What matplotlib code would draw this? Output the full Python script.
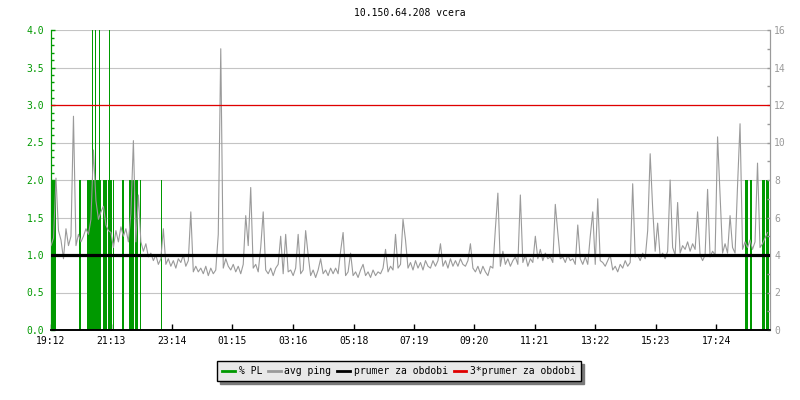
import matplotlib.pyplot as plt
from matplotlib.lines import Line2D
from matplotlib.ticker import MultipleLocator

plt.rcParams['font.family'] = ['DejaVu Sans Mono']
plt.rcParams['font.size'] = 7

# avg ping [ms], one value every 5 minutes starting 19:12 (one row = one hour)
ping_ms = [
    4.5, 4.9, 8.1, 5.3, 4.8, 3.8, 5.4, 4.5, 5.0, 11.4, 4.5, 5.1,
    4.7, 5.0, 5.4, 5.1, 5.9, 9.6, 6.9, 5.9, 6.3, 6.6, 5.6, 5.3,
    5.2, 4.4, 5.3, 4.7, 5.5, 5.0, 5.4, 4.7, 6.2, 10.1, 4.7, 7.2,
    4.7, 4.2, 4.6, 3.9, 4.1, 3.7, 4.0, 3.5, 3.8, 5.4, 3.5, 3.8,
    3.4, 3.7, 3.3, 3.8, 3.6, 4.0, 3.4, 3.7, 6.3, 3.1, 3.4, 3.1,
    3.3, 3.0, 3.4, 2.9, 3.3, 3.0, 3.2, 5.1, 15.0, 3.3, 3.8, 3.4,
    3.2, 3.5, 3.1, 3.4, 3.0, 3.5, 6.1, 4.5, 7.6, 3.3, 3.5, 3.1,
    4.4, 6.3, 3.2, 3.0, 3.3, 2.9, 3.3, 3.5, 5.0, 3.0, 5.1, 3.1,
    3.2, 2.9, 3.3, 5.1, 3.0, 3.2, 5.3, 4.0, 2.9, 3.2, 2.8, 3.2,
    3.8, 3.0, 3.2, 2.9, 3.3, 3.0, 3.3, 3.0, 4.2, 5.2, 2.9, 3.1,
    4.1, 2.9, 3.1, 2.8, 3.2, 3.5, 2.9, 3.1, 2.8, 3.2, 2.9, 3.1,
    3.0, 3.3, 4.3, 3.1, 3.4, 3.2, 5.1, 3.3, 3.5, 5.9, 4.8, 3.3,
    3.6, 3.2, 3.7, 3.3, 3.6, 3.2, 3.7, 3.4, 3.3, 3.7, 3.4, 3.7,
    4.6, 3.4, 3.7, 3.3, 3.8, 3.4, 3.7, 3.4, 3.8, 3.5, 3.4, 3.7,
    4.6, 3.3, 3.1, 3.4, 3.0, 3.4, 3.1, 2.9, 3.4, 3.3, 5.4, 7.3,
    3.4, 4.2, 3.5, 3.8, 3.4, 3.7, 3.9, 3.5, 7.2, 3.6, 4.0, 3.4,
    3.8, 3.6, 5.0, 3.8, 4.3, 3.7, 4.1, 3.8, 3.9, 3.6, 6.7, 5.2,
    3.8, 3.9, 3.6, 4.0, 3.7, 3.8, 3.5, 5.6, 3.8, 3.5, 3.9, 3.5,
    5.0, 6.3, 3.5, 7.0, 3.7, 3.6, 3.4, 3.7, 4.0, 3.2, 3.4, 3.1,
    3.5, 3.3, 3.7, 3.4, 3.6, 7.8, 3.9, 4.0, 3.7, 4.1, 3.8, 5.3,
    9.4, 6.5, 4.2, 5.7, 3.9, 4.1, 3.8, 4.2, 8.0, 4.4, 4.0, 6.8,
    4.1, 4.5, 4.3, 4.7, 4.2, 4.6, 4.3, 6.3, 4.0, 3.7, 4.0, 7.5,
    3.9, 4.2, 4.0, 10.3, 7.2, 4.1, 4.6, 4.1, 6.1, 4.4, 4.1, 7.7,
    11.0, 4.3, 4.7, 4.4, 4.8, 4.3, 4.7, 8.9, 4.4, 4.6, 4.9, 5.2,
]
ping_step_min = 5

# packet loss samples: minutes after 19:12 and loss in %
pl_minute = [0, 2, 4, 6, 8,
             56, 58,
             72, 74, 76, 78, 80, 82, 84, 86, 88, 90, 92, 94, 96, 98,
             104, 106, 108, 110,
             114, 116, 118, 120,
             124,
             142, 144,
             156, 158, 160, 162, 164,
             168, 170, 172,
             178,
             220,
             1390, 1392,
             1400,
             1424, 1426,
             1432, 1434]
pl_percent = [2, 2, 2, 2, 2,
              2, 2,
              2, 2, 2, 2, 2, 6, 2, 2, 6, 2, 2, 2, 6, 2,
              2, 2, 2, 2,
              2, 6, 2, 2,
              2,
              2, 2,
              2, 2, 2, 2, 2,
              2, 2, 2,
              2,
              2,
              2, 2,
              2,
              2, 2,
              2, 2]

ping_mean = 4.0
start_clock = '19:12'
tick_labels = ['19:12', '21:13', '23:14', '01:15', '03:16', '05:18',
               '07:19', '09:20', '11:21', '13:22', '15:23', '17:24']

GREEN = '#009900'
GRAY = '#9a9a9a'
RED = '#e00000'


def clock_to_min(s):
    h, m = s.split(':')
    h0, m0 = start_clock.split(':')
    return ((int(h) * 60 + int(m)) - (int(h0) * 60 + int(m0))) % 1440


fig = plt.figure(figsize=(8, 4), dpi=100)
ax = fig.add_axes([51 / 800, 70 / 400, 719 / 800, 300 / 400])
ax2 = ax.twinx()

# packet loss bars (left axis)
ax.bar(pl_minute, pl_percent, width=3, align='edge', color=GREEN, linewidth=0,
       antialiased=False, zorder=2)
ax.set_ylim(0, 4)
ax.set_xlim(0, 1440)
ax.yaxis.set_major_locator(MultipleLocator(0.5))
ax.yaxis.set_minor_locator(MultipleLocator(0.1))
ax.yaxis.set_major_formatter(plt.FormatStrFormatter('%.1f'))
ax.grid(axis='y', color='#c4c4c4', linewidth=0.8)
ax.set_axisbelow(True)
ax.tick_params(axis='y', which='major', direction='in', length=3.2, width=1,
               color=GREEN, labelcolor=GREEN, pad=5)
ax.tick_params(axis='y', which='minor', direction='in', length=2, width=1, color=GREEN)

ticks = [clock_to_min(t) for t in tick_labels]
ax.set_xticks(ticks)
ax.set_xticklabels(tick_labels)
ax.tick_params(axis='x', direction='in', length=4.3, width=1, color='black', pad=4)

# ping on right axis
x_ping = [i * ping_step_min for i in range(len(ping_ms))]
ax2.plot(x_ping, ping_ms, color=GRAY, linewidth=0.8, zorder=3)
ax2.axhline(ping_mean, color='black', linewidth=2.3, zorder=5)
ax2.axhline(3 * ping_mean, color=RED, linewidth=0.9, zorder=5)
ax2.set_ylim(0, 16)
ax2.set_xlim(0, 1440)
ax2.yaxis.set_major_locator(MultipleLocator(2))
ax2.yaxis.set_minor_locator(MultipleLocator(1))
ax2.tick_params(axis='y', which='both', direction='in', length=2.2, width=1,
                color=GRAY, labelcolor=GRAY, pad=3)

for a in (ax, ax2):
    a.spines['top'].set_visible(False)
    a.spines['left'].set_color(GREEN)
    a.spines['right'].set_color(GRAY)
    a.spines['bottom'].set_color('black')
    a.spines['bottom'].set_linewidth(1.2)

fig.text(410 / 800, 1 - 13 / 400, '10.150.64.208 vcera', ha='center', va='center')

handles = [Line2D([], [], color=GREEN, linewidth=2),
           Line2D([], [], color=GRAY, linewidth=2),
           Line2D([], [], color='black', linewidth=2),
           Line2D([], [], color=RED, linewidth=2)]
labels = ['% PL', 'avg ping', 'prumer za obdobi', '3*prumer za obdobi']
leg = fig.legend(handles, labels, loc='center', bbox_to_anchor=(399 / 800, 1 - 371 / 400),
                 ncol=4, frameon=True, fancybox=False,
                 shadow={'color': '#7a7a7a', 'alpha': 1},
                 handlelength=1.3, handletextpad=0.4, columnspacing=0.6,
                 borderpad=0.5, borderaxespad=0)
leg.get_frame().set_facecolor('#e8e8e8')
leg.get_frame().set_edgecolor('black')
leg.get_frame().set_alpha(1)
leg.get_frame().set_linewidth(1)

fig.savefig('out.png', dpi=100)
